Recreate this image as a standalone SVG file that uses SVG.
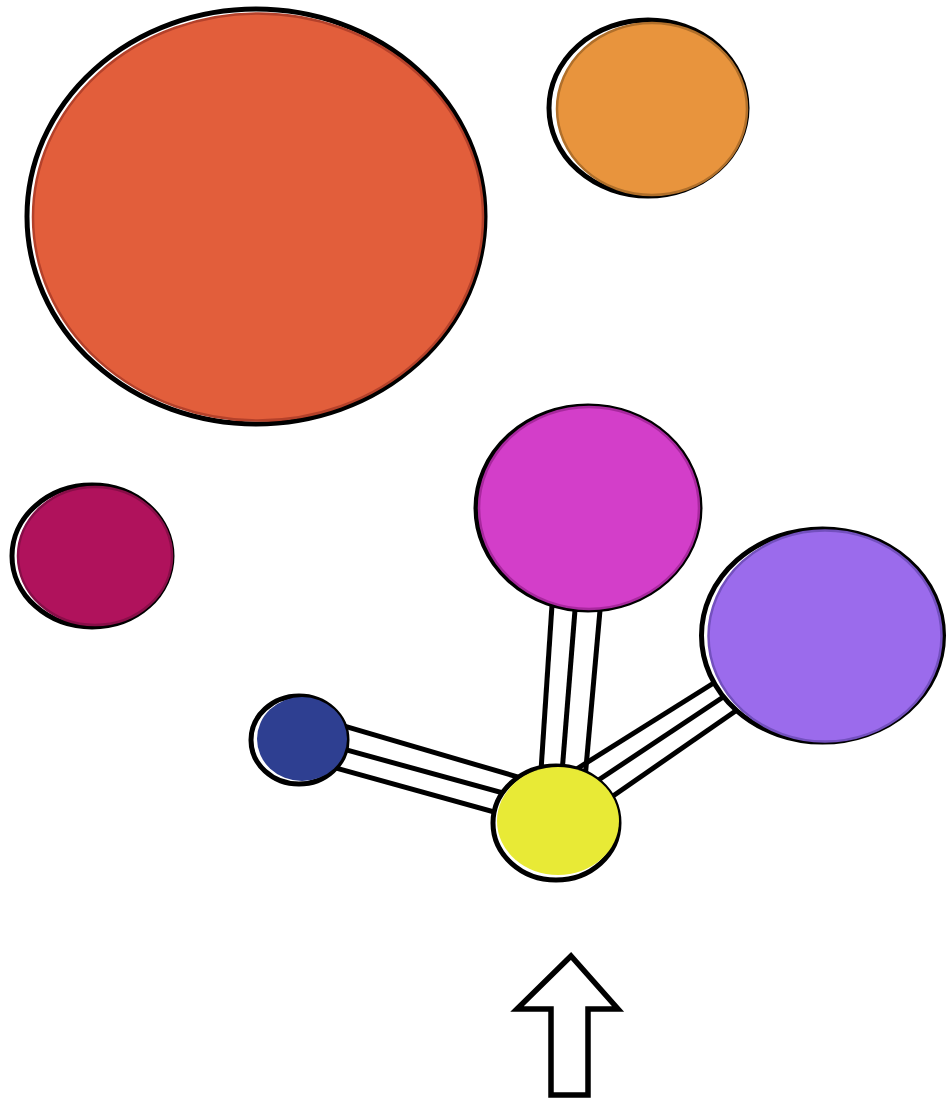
<svg xmlns="http://www.w3.org/2000/svg" width="947" height="1105" viewBox="0 0 947 1105">
<style>
.out{fill:#fff;stroke:#000;stroke-width:5}
.ln{stroke:#000;stroke-width:5;fill:none;stroke-linecap:butt}
.arrow{fill:#fff;stroke:#000;stroke-width:5.5;stroke-linejoin:miter}
</style>
<rect width="947" height="1105" fill="#fff"/>
<g id="connectors">
<g id="c-blue-yellow">
<line class="ln" x1="330" y1="721.8" x2="530" y2="780.6"/>
<line class="ln" x1="330" y1="745.4" x2="530" y2="800.4"/>
<line class="ln" x1="330" y1="766.4" x2="530" y2="822"/>
</g>
<g id="c-pink-yellow">
<line class="ln" x1="553" y1="590" x2="539.7" y2="790"/>
<line class="ln" x1="576.6" y1="590" x2="560.6" y2="790"/>
<line class="ln" x1="601.8" y1="590" x2="584" y2="790"/>
</g>
<g id="c-purple-yellow">
<line class="ln" x1="740" y1="666.5" x2="575" y2="770"/>
<line class="ln" x1="745" y1="682.5" x2="585" y2="789"/>
<line class="ln" x1="750" y1="701" x2="600" y2="805"/>
</g>
</g>
<g id="node-red">
<ellipse class="out" cx="256" cy="216.5" rx="229" ry="207.5"/>
<ellipse cx="258" cy="217" rx="225" ry="203.5" fill="#E25E3B" stroke="#B4412A" stroke-width="2.5"/>
</g>
<g id="node-orange">
<ellipse class="out" cx="648" cy="108" rx="99" ry="88"/>
<ellipse cx="652" cy="109" rx="95" ry="86" fill="#E8943D" stroke="#B06F2A" stroke-width="2.5"/>
</g>
<g id="node-crimson">
<ellipse class="out" cx="92" cy="556" rx="80" ry="71"/>
<ellipse cx="95" cy="556" rx="77" ry="69" fill="#B0125C" stroke="#880E48" stroke-width="2.5"/>
</g>
<g id="node-magenta">
<ellipse class="out" cx="588" cy="508" rx="112" ry="102"/>
<ellipse cx="589" cy="508" rx="110" ry="101" fill="#D33EC9" stroke="#A8289E" stroke-width="2.5"/>
</g>
<g id="node-purple">
<ellipse class="out" cx="822.5" cy="635.5" rx="121" ry="106.5"/>
<ellipse cx="825" cy="636" rx="116.5" ry="105.5" fill="#9B6BEC" stroke="#7350BE" stroke-width="2.5"/>
</g>
<g id="node-blue">
<ellipse class="out" cx="299" cy="740" rx="48" ry="44"/>
<ellipse cx="302" cy="739" rx="45" ry="42" fill="#2E3F91"/>
</g>
<g id="node-yellow">
<ellipse class="out" cx="556" cy="823" rx="63" ry="57"/>
<ellipse cx="558" cy="821" rx="61" ry="54" fill="#E8EA36"/>
</g>
<g id="arrow">
<path class="arrow" d="M571,956 L517,1009 L551,1009 L551,1095 L588,1095 L588,1009 L618,1009 Z"/>
</g>
</svg>
